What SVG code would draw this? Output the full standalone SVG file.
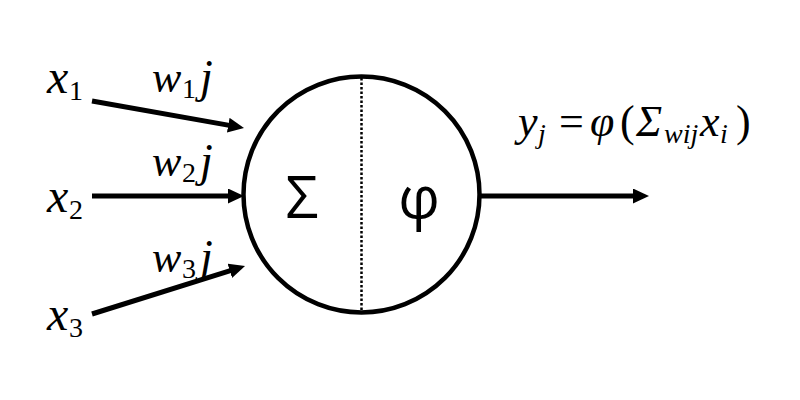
<svg xmlns="http://www.w3.org/2000/svg" width="800" height="400" viewBox="0 0 800 400">
<defs>
<marker id="ah" markerUnits="userSpaceOnUse" markerWidth="16" markerHeight="15" refX="4" refY="7.5" orient="auto">
<path d="M0,0 L16,7.5 L0,15 z" fill="#000"/>
</marker>
<style>
.m{font-family:"Liberation Serif","DejaVu Serif",serif;font-style:italic;fill:#000}
.n{font-style:normal}
.s{font-family:"Open Sans","DejaVu Sans",sans-serif;fill:#000}
.c{stroke:#000;stroke-width:5;fill:none}
</style>
</defs>
<rect width="800" height="400" fill="#fff"/>
<g id="connectors">
<line class="c" x1="92" y1="101" x2="232.2" y2="125.9" marker-end="url(#ah)"/>
<line class="c" x1="92" y1="196" x2="232" y2="196" marker-end="url(#ah)"/>
<line class="c" x1="92" y1="314" x2="233.6" y2="269.6" marker-end="url(#ah)"/>
<line class="c" x1="481" y1="196" x2="637" y2="196" marker-end="url(#ah)"/>
</g>
<g id="neuron">
<circle cx="361.5" cy="194.5" r="118" fill="#fff" stroke="#000" stroke-width="4.5"/>
<line x1="361.5" y1="78" x2="361.5" y2="311" stroke="#000" stroke-width="2.5" stroke-dasharray="2.5,2"/>
<text class="s" x="302" y="218" font-size="58" text-anchor="middle">Σ</text>
<text class="s" x="419" y="218" font-size="58" text-anchor="middle">φ</text>
</g>
<g id="x1"><text class="m" x="47" y="93" font-size="48">x<tspan class="n" x="69" y="100" font-size="28">1</tspan></text></g>
<g id="x2"><text class="m" x="47" y="212" font-size="48">x<tspan class="n" x="69" y="219" font-size="28">2</tspan></text></g>
<g id="x3"><text class="m" x="47" y="330" font-size="48">x<tspan class="n" x="69" y="337" font-size="28">3</tspan></text></g>
<g id="w1"><text class="m" x="152" y="92" font-size="44">w</text><text class="m n" x="182" y="98" font-size="28">1</text><text class="m" x="200" y="92" font-size="46">j</text></g>
<g id="w2"><text class="m" x="152" y="176" font-size="44">w</text><text class="m n" x="182" y="182" font-size="28">2</text><text class="m" x="200" y="176" font-size="46">j</text></g>
<g id="w3"><text class="m" x="152" y="272" font-size="44">w</text><text class="m n" x="182" y="278" font-size="28">3</text><text class="m" x="200" y="272" font-size="46">j</text></g>
<g id="formula"><text class="m" x="518" y="136" font-size="44">y<tspan x="538" y="143" font-size="28">j</tspan><tspan class="n" x="559" y="136">=</tspan><tspan x="590" y="136">φ</tspan><tspan class="n" x="620" y="136">(</tspan><tspan x="636" y="136">Σ</tspan><tspan x="664" y="143" font-size="28">wij</tspan><tspan x="700" y="136">x</tspan><tspan x="720" y="143" font-size="28">i</tspan><tspan class="n" x="736" y="136">)</tspan></text></g>
</svg>
